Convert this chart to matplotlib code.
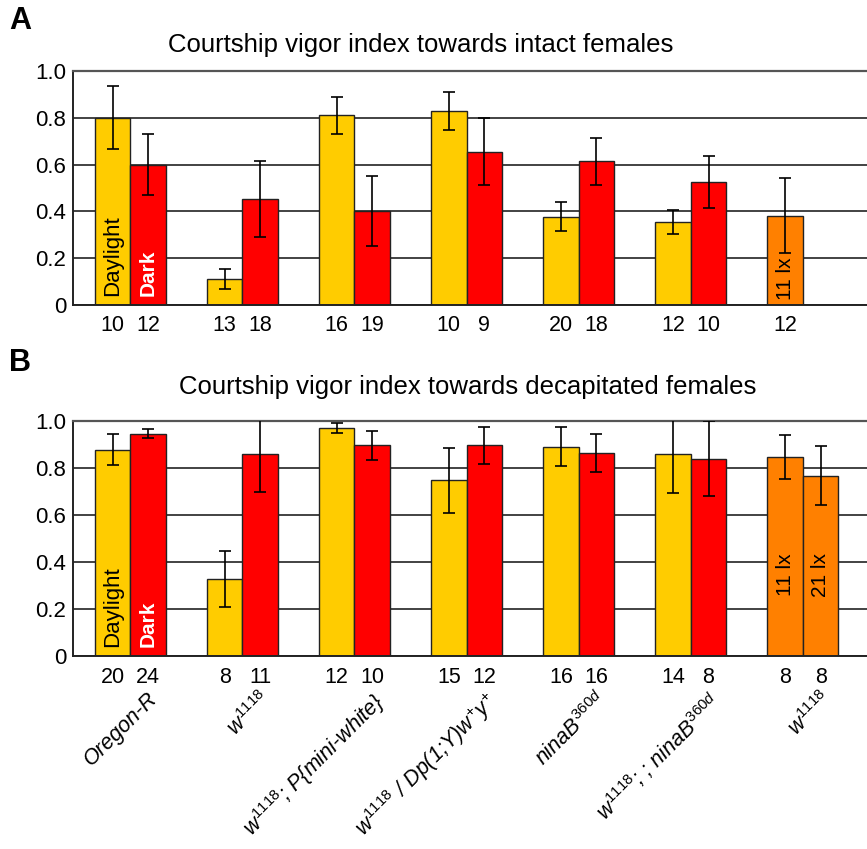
import numpy as np
import matplotlib
matplotlib.use("Agg")
import matplotlib.pyplot as plt

plt.rcParams['font.family'] = 'Liberation Sans'
plt.rcParams['mathtext.fontset'] = 'custom'
plt.rcParams['mathtext.it'] = 'Liberation Sans:italic'
plt.rcParams['mathtext.rm'] = 'Liberation Sans'

# genotype labels (shown under panel B)
genotypes = [
    "Oregon-R",
    r"$w^{\mathit{1118}}$",
    r"$w^{\mathit{1118}}$; P{mini-white}",
    r"$w^{\mathit{1118}}$ / Dp(1;Y)$w^{+}y^{+}$",
    r"$\mathit{ninaB}^{\mathit{360d}}$",
    r"$w^{\mathit{1118}}$; ; $\mathit{ninaB}^{\mathit{360d}}$",
    r"$w^{\mathit{1118}}$",
]

# panel A: towards intact females
day_a = [0.80, 0.11, 0.81, 0.83, 0.378, 0.355]
day_a_err = [0.134, 0.042, 0.080, 0.082, 0.061, 0.051]
dark_a = [0.60, 0.452, 0.403, 0.655, 0.614, 0.526]
dark_a_err = [0.130, 0.162, 0.149, 0.142, 0.100, 0.110]
dim_a = [0.382]
dim_a_err = [0.162]
dim_a_lux = ["11 lx"]
n_day_a = [10, 13, 16, 10, 20, 12]
n_dark_a = [12, 18, 19, 9, 18, 10]
n_dim_a = [12]

# panel B: towards decapitated females
day_b = [0.878, 0.328, 0.970, 0.748, 0.891, 0.860]
day_b_err = [0.065, 0.120, 0.022, 0.139, 0.082, 0.166]
dark_b = [0.946, 0.860, 0.896, 0.896, 0.865, 0.840]
dark_b_err = [0.018, 0.161, 0.060, 0.080, 0.080, 0.158]
dim_b = [0.847, 0.767]
dim_b_err = [0.095, 0.125]
dim_b_lux = ["11 lx", "21 lx"]
n_day_b = [20, 8, 12, 15, 16, 14]
n_dark_b = [24, 11, 10, 12, 16, 8]
n_dim_b = [8, 8]

YELLOW = "#FFCC00"
RED = "#FF0000"
ORANGE = "#FF8000"
W = 0.317


def panel(ax, day, day_err, dark, dark_err, dim, dim_err, dim_lux,
          n_day, n_dark, n_dim, lux_y):
    x = np.arange(len(day))
    xd = x - W / 2
    xk = x + W / 2
    xo = len(day) - W / 2 + W * np.arange(len(dim))

    kw = dict(width=W, edgecolor="#222222", linewidth=1.0, zorder=2)
    ax.bar(xd, day, color=YELLOW, **kw)
    ax.bar(xk, dark, color=RED, **kw)
    ax.bar(xo, dim, color=ORANGE, **kw)

    ekw = dict(fmt="none", ecolor="black", elinewidth=1.2, capsize=4,
               capthick=1.2, zorder=3)
    ax.errorbar(xd, day, yerr=day_err, **ekw)
    ax.errorbar(xk, dark, yerr=dark_err, **ekw)
    ax.errorbar(xo, dim, yerr=dim_err, **ekw)

    # sample sizes under the bars
    allx = list(xd) + list(xk) + list(xo)
    alln = list(n_day) + list(n_dark) + list(n_dim)
    for xi, n in zip(allx, alln):
        ax.annotate(str(n), xy=(xi, 0), xycoords=("data", "axes fraction"),
                    xytext=(0, -21), textcoords="offset pixels",
                    ha="center", va="center", fontsize=15.5)

    # in-bar labels
    ax.text(xd[0], 0.04, "Daylight", rotation=90, ha="center", va="bottom",
            fontsize=16, color="black", zorder=4)
    ax.text(xk[0], 0.04, "Dark", rotation=90, ha="center", va="bottom",
            fontsize=15, fontweight="bold", color="white", zorder=4)
    for xi, lab in zip(xo, dim_lux):
        ax.text(xi, lux_y, lab, rotation=90, ha="center",
                va="bottom" if lux_y < 0.1 else "center",
                fontsize=15, color="black", zorder=4)

    ax.set_xlim(-0.511, 6.572)
    ax.set_ylim(0, 1.0)
    ax.set_xticks([])
    ax.set_yticks([0, 0.2, 0.4, 0.6, 0.8, 1.0])
    ax.set_yticklabels(["0", "0.2", "0.4", "0.6", "0.8", "1.0"])
    ax.tick_params(axis="y", length=0, pad=5, labelsize=16)
    ax.set_axisbelow(True)
    ax.yaxis.grid(True, color="#222222", linewidth=1.2)
    ax.spines["right"].set_visible(False)
    ax.spines["top"].set_color("#555555")
    ax.spines["top"].set_linewidth(1.6)
    ax.spines["left"].set_linewidth(1.4)
    ax.spines["bottom"].set_linewidth(1.4)
    ax.spines["left"].set_color("#222222")
    ax.spines["bottom"].set_color("#222222")


fig = plt.figure(figsize=(8.67, 8.49), dpi=100)
ax_a = fig.add_axes([0.0842, 0.6408, 0.9158, 0.2756])
ax_b = fig.add_axes([0.0842, 0.2273, 0.9158, 0.2768])

panel(ax_a, day_a, day_a_err, dark_a, dark_a_err, dim_a, dim_a_err, dim_a_lux,
      n_day_a, n_dark_a, n_dim_a, 0.02)
panel(ax_b, day_b, day_b_err, dark_b, dark_b_err, dim_b, dim_b_err, dim_b_lux,
      n_day_b, n_dark_b, n_dim_b, 0.345)

fig.text(421 / 867, 1 - 45 / 849, "Courtship vigor index towards intact females",
         ha="center", va="center", fontsize=18.5)
fig.text(468 / 867, 1 - 387 / 849, "Courtship vigor index towards decapitated females",
         ha="center", va="center", fontsize=18.5)
fig.text(20 / 867, 1 - 21 / 849, "A", ha="center", va="center",
         fontsize=22, fontweight="bold")
fig.text(20 / 867, 1 - 363 / 849, "B", ha="center", va="center",
         fontsize=22, fontweight="bold")

# rotated genotype labels
for i, lab in enumerate(genotypes):
    ax_b.annotate(lab, xy=(i, 0), xycoords=("data", "axes fraction"),
                  xytext=(17, -32), textcoords="offset pixels",
                  rotation=45, rotation_mode="anchor", ha="right", va="top",
                  fontsize=15.5, style="italic")

fig.savefig("out.png", dpi=100)
